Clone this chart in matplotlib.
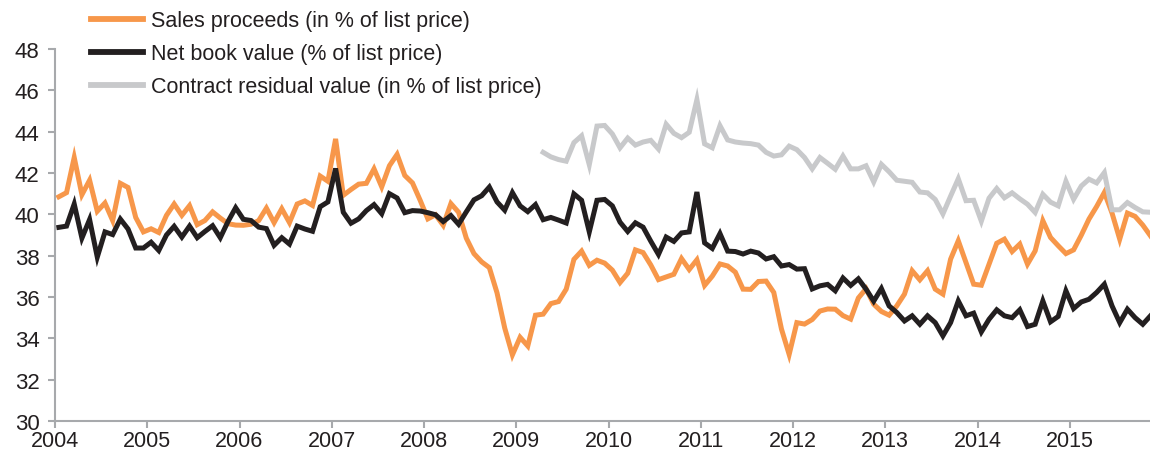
import numpy as np
import matplotlib
matplotlib.use("Agg")
import matplotlib.pyplot as plt

plt.rcParams['font.family'] = ['Liberation Sans', 'DejaVu Sans']

# Monthly series, Jan 2004 - Nov 2015
start_year = 2004
sales_proceeds = [
    40.85, 41.05, 42.75, 40.95, 41.65, 40.15, 40.55, 39.70, 41.50, 41.30, 39.85, 39.15,
    39.30, 39.12, 39.95, 40.50, 39.95, 40.42, 39.50, 39.70, 40.12, 39.82, 39.55, 39.48,
    39.47, 39.52, 39.70, 40.30, 39.60, 40.27, 39.60, 40.50, 40.65, 40.43, 41.85, 41.60,
    43.65, 40.92, 41.20, 41.46, 41.50, 42.20, 41.33, 42.35, 42.90, 41.88, 41.52, 40.68,
    39.78, 39.98, 39.47, 40.52, 40.10, 38.85, 38.10, 37.70, 37.42, 36.20, 34.50, 33.20,
    34.05, 33.63, 35.12, 35.17, 35.68, 35.78, 36.38, 37.82, 38.22, 37.53, 37.78, 37.64,
    37.30, 36.70, 37.15, 38.28, 38.15, 37.55, 36.84, 36.97, 37.10, 37.86, 37.33, 37.80,
    36.56, 37.01, 37.60, 37.50, 37.20, 36.38, 36.37, 36.75, 36.77, 36.22, 34.45, 33.22,
    34.76, 34.69, 34.91, 35.32, 35.42, 35.41, 35.10, 34.93, 35.95, 36.40, 35.65, 35.30,
    35.12, 35.57, 36.14, 37.27, 36.83, 37.27, 36.38, 36.14, 37.83, 38.72, 37.67, 36.62,
    36.57, 37.59, 38.60, 38.80, 38.20, 38.56, 37.59, 38.23, 39.69, 38.88, 38.48, 38.10,
    38.28, 38.99, 39.77, 40.38, 41.06, 40.06, 38.80, 40.06, 39.90, 39.48, 38.96,
]
net_book_value = [
    39.37, 39.43, 40.50, 38.85, 39.75, 37.93, 39.15, 39.02, 39.77, 39.29, 38.37, 38.37,
    38.65, 38.25, 39.00, 39.42, 38.90, 39.43, 38.87, 39.17, 39.45, 38.87, 39.65, 40.32,
    39.76, 39.70, 39.38, 39.31, 38.50, 38.87, 38.56, 39.43, 39.29, 39.18, 40.37, 40.60,
    42.22, 40.10, 39.57, 39.78, 40.18, 40.47, 40.03, 41.00, 40.79, 40.08, 40.18, 40.16,
    40.08, 39.98, 39.65, 39.94, 39.52, 40.12, 40.70, 40.90, 41.32, 40.60, 40.20, 41.05,
    40.41, 40.13, 40.47, 39.74, 39.85, 39.72, 39.58, 40.99, 40.68, 39.15, 40.68, 40.72,
    40.41, 39.62, 39.17, 39.59, 39.38, 38.70, 38.06, 38.90, 38.69, 39.10, 39.15, 41.08,
    38.62, 38.35, 39.07, 38.22, 38.20, 38.08, 38.22, 38.13, 37.84, 37.95, 37.50, 37.57,
    37.35, 37.37, 36.39, 36.54, 36.61, 36.30, 36.92, 36.56, 36.88, 36.38, 35.80, 36.41,
    35.57, 35.25, 34.84, 35.09, 34.68, 35.09, 34.76, 34.12, 34.76, 35.81, 35.09, 35.22,
    34.31, 34.92, 35.38, 35.09, 35.00, 35.38, 34.57, 34.68, 35.81, 34.80, 35.06, 36.30,
    35.44, 35.76, 35.89, 36.22, 36.62, 35.57, 34.76, 35.41, 35.00, 34.68, 35.09,
]
# Contract residual value starts Apr 2009 (month index 63)
residual_start = 63
contract_residual = [
    43.00, 42.78, 42.65, 42.57, 43.47, 43.80, 42.40, 44.27, 44.30,
    43.89, 43.22, 43.69, 43.35, 43.50, 43.58, 43.16, 44.36, 43.92, 43.71, 43.97, 45.55,
    43.41, 43.22, 44.29, 43.60, 43.50, 43.45, 43.42, 43.35, 43.00, 42.82, 42.88, 43.30,
    43.13, 42.75, 42.20, 42.75, 42.47, 42.18, 42.82, 42.20, 42.20, 42.35, 41.57, 42.42,
    42.06, 41.65, 41.60, 41.55, 41.08, 41.04, 40.72, 40.02, 40.88, 41.72, 40.66, 40.68,
    39.67, 40.78, 41.25, 40.80, 41.04, 40.75, 40.49, 40.09, 40.97, 40.59, 40.41, 41.60,
    40.73, 41.37, 41.70, 41.52, 42.02, 40.22, 40.22, 40.57, 40.33, 40.12, 40.10,
]
labels = ["Sales proceeds (in % of list price)",
          "Net book value (% of list price)",
          "Contract residual value (in % of list price)"]
year_ticks = list(range(2004, 2016))
y_ticks = list(range(30, 49, 2))

months = np.arange(len(sales_proceeds))
x_all = start_year + (months + 0.5) / 12.0
x_res = start_year + (np.arange(residual_start, residual_start + len(contract_residual)) + 0.5) / 12.0

W, H = 1150, 452
fig = plt.figure(figsize=(W / 100, H / 100), dpi=100)
ax = fig.add_axes([55 / W, 1 - 422 / H, 1 - 55 / W, (422 - 50) / H])

c_orange = "#F7974A"
c_black = "#231F20"
c_gray = "#C8C9CB"
c_axis = "#A7A9AC"
lw = 3.6

l1, = ax.plot(x_all, sales_proceeds, color=c_orange, lw=lw, solid_joinstyle="miter", label=labels[0])
l2, = ax.plot(x_all, net_book_value, color=c_black, lw=lw, solid_joinstyle="miter", label=labels[1])
l3, = ax.plot(x_res, contract_residual, color=c_gray, lw=lw, solid_joinstyle="miter", label=labels[2])

ax.set_xlim(2004, 2004 + 1095 / 92.25)
ax.set_ylim(30, 48)
ax.set_xticks(year_ticks)
ax.set_xticklabels([str(y) for y in year_ticks])
ax.set_yticks(y_ticks)

for s in ["top", "right"]:
    ax.spines[s].set_visible(False)
for s in ["left", "bottom"]:
    ax.spines[s].set_color(c_axis)
    ax.spines[s].set_linewidth(1.5)
ax.tick_params(axis="both", colors=c_axis, width=1.5, length=5, direction="out",
               labelcolor=c_black, labelsize=16)
ax.tick_params(axis="x", pad=1.5, labelsize=15.5)
ax.tick_params(axis="y", pad=6)

leg = fig.legend(handles=[l1, l2, l3], loc="upper left",
                 bbox_to_anchor=(85 / W, 1 - 5 / H), frameon=False,
                 fontsize=15.5, handlelength=2.4, handletextpad=0.35,
                 labelspacing=0.55, borderaxespad=0, borderpad=0.3)
for t in leg.get_texts():
    t.set_color(c_black)
for h in leg.get_lines():
    h.set_linewidth(4.2)

fig.savefig("out.png", dpi=100)
